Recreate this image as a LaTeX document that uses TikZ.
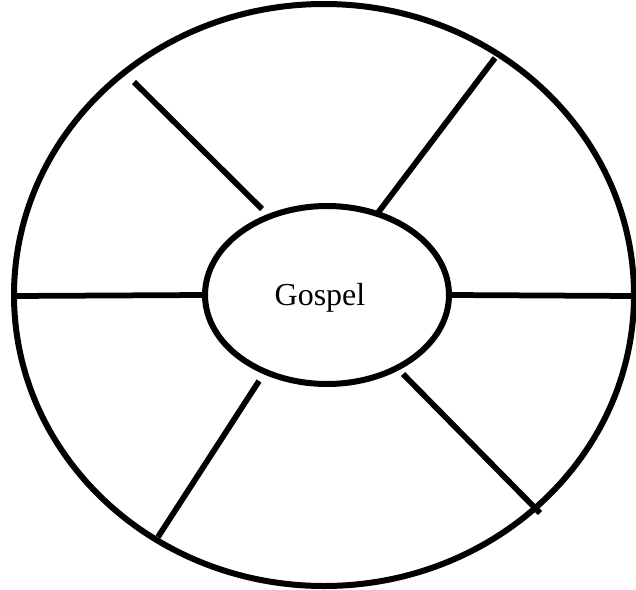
\documentclass[tikz,border=0pt]{standalone}
\usepackage{fontspec}
\setmainfont{Liberation Serif}
\usetikzlibrary{shapes.geometric}

\begin{document}
\begin{tikzpicture}[x=0.02cm, y=-0.02cm,
            rim/.style={black, line width=0.12cm},
            hub/.style={ellipse, draw, black, line width=0.12cm, minimum width=4.88cm, minimum height=3.56cm, inner sep=0pt},
            spoke/.style={black, line width=0.115cm},
            word/.style={font=\fontsize{18.2}{21}\selectfont, inner sep=0pt}
        ]
            \useasboundingbox (0,0) rectangle (636,589);

            % Outer rim
            \draw [rim] (324,295) ellipse (310 and 291);

            % Hub and its text
            \node [hub] (hub) at (327,295) {};
            \node [word] (gospel) at (320,297.5) {Gospel};

            % Spoke ends
            \coordinate (westend) at (14,296);
            \coordinate (eastend) at (634,296);
            \coordinate (nwout) at (134,82);
            \coordinate (nwin) at (262,209);
            \coordinate (neout) at (495,58);
            \coordinate (nein) at (377,214);
            \coordinate (swin) at (259,381);
            \coordinate (swout) at (158,537);
            \coordinate (sein) at (403,374);
            \coordinate (seout) at (540,513);

            % Spokes
            \draw [spoke] (westend) -- (hub.west);
            \draw [spoke] (hub.east) -- (eastend);
            \draw [spoke] (nwout) -- (nwin);
            \draw [spoke] (neout) -- (nein);
            \draw [spoke] (swin) -- (swout);
            \draw [spoke] (sein) -- (seout);
        \end{tikzpicture}
\end{document}
